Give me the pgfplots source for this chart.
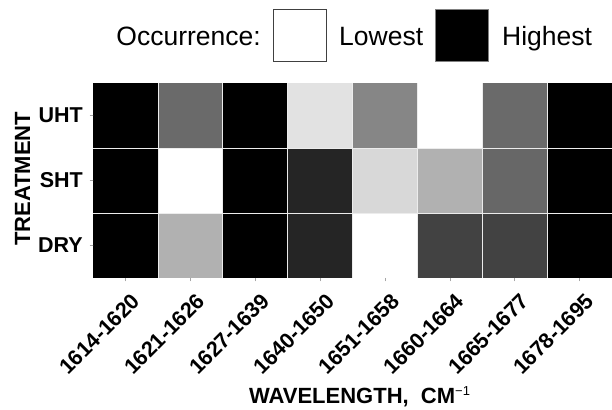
\documentclass[border=0pt]{standalone}
\usepackage{pgfplots}
\pgfplotsset{compat=1.18}
\usepackage{fontspec}
\setmainfont{Liberation Sans}
\begin{document}
\begin{tikzpicture}
\path[use as bounding box] (0pt,0pt) rectangle (612pt,409pt);
\begin{axis}[
  at={(93pt,131pt)}, anchor=south west,
  scale only axis, width=519pt, height=195pt,
  xmin=-0.5, xmax=7.5, ymin=-0.5, ymax=2.5,
  colormap={bw}{gray(0cm)=(0); gray(1cm)=(1)},
  point meta min=0, point meta max=255,
  xtick={0,...,7},
  xticklabels={1614-1620,1621-1626,1627-1639,1640-1650,1651-1658,1660-1664,1665-1677,1678-1695},
  ytick={0,1,2},
  yticklabels={DRY,SHT,UHT},
  xtick pos=lower, ytick pos=left,
  tick align=outside,
  major tick length=9.5pt,
  minor tick length=0pt,
  tick style={gray!70, line width=0.5pt, dash pattern=on 0pt off 6pt on 3.5pt},
  minor xtick={0.5,1.5,...,6.5},
  minor ytick={0.5,1.5},
  xminorgrids, yminorgrids,
  minor grid style={white!85!gray, line width=0.6pt, solid},
  axis on top,
  axis line style={draw=none},
  ticklabel style={font=\fontsize{21.5}{25}\selectfont\bfseries},
  xticklabel style={xshift=5pt, yshift=-3pt, rotate=45, anchor=north east, inner sep=1pt},
  yticklabel style={anchor=east, inner sep=0pt, xshift=-0.5pt},
  xlabel={WAVELENGTH,\ \ CM\textsuperscript{\normalfont\fontsize{13}{13}\selectfont −1}},
  xlabel style={font=\fontsize{22}{26}\selectfont\bfseries, at={(axis description cs:0.514,0)}, anchor=base, yshift=-125pt},
  ylabel={TREATMENT},
  ylabel style={font=\fontsize{22}{26}\selectfont\bfseries, at={(axis description cs:0,0.509)}, anchor=center, yshift=70.5pt},
]
\addplot[matrix plot*, mesh/cols=8, point meta=explicit] table[meta=c] {
x y c
0 0 0
1 0 176
2 0 0
3 0 37
4 0 255
5 0 66
6 0 66
7 0 0
0 1 0
1 1 255
2 1 0
3 1 37
4 1 214
5 1 176
6 1 102
7 1 0
0 2 0
1 2 105
2 2 0
3 2 224
4 2 133
5 2 255
6 2 105
7 2 0
};
\end{axis}
\node[anchor=base east, font=\fontsize{26.5}{30}\selectfont, inner sep=0pt] at (261pt,363pt) {Occurrence:};
\draw[fill=white, draw=black!75, line width=0.8pt] (273.5pt,347.5pt) rectangle (326.5pt,399.5pt);
\node[anchor=base west, font=\fontsize{26.5}{30}\selectfont, inner sep=0pt] at (339pt,363pt) {Lowest};
\draw[fill=black, draw=black!50, line width=0.8pt] (435.5pt,347.5pt) rectangle (488.5pt,399.5pt);
\node[anchor=base west, font=\fontsize{26.5}{30}\selectfont, inner sep=0pt] at (502pt,363pt) {Highest};
\end{tikzpicture}
\end{document}
